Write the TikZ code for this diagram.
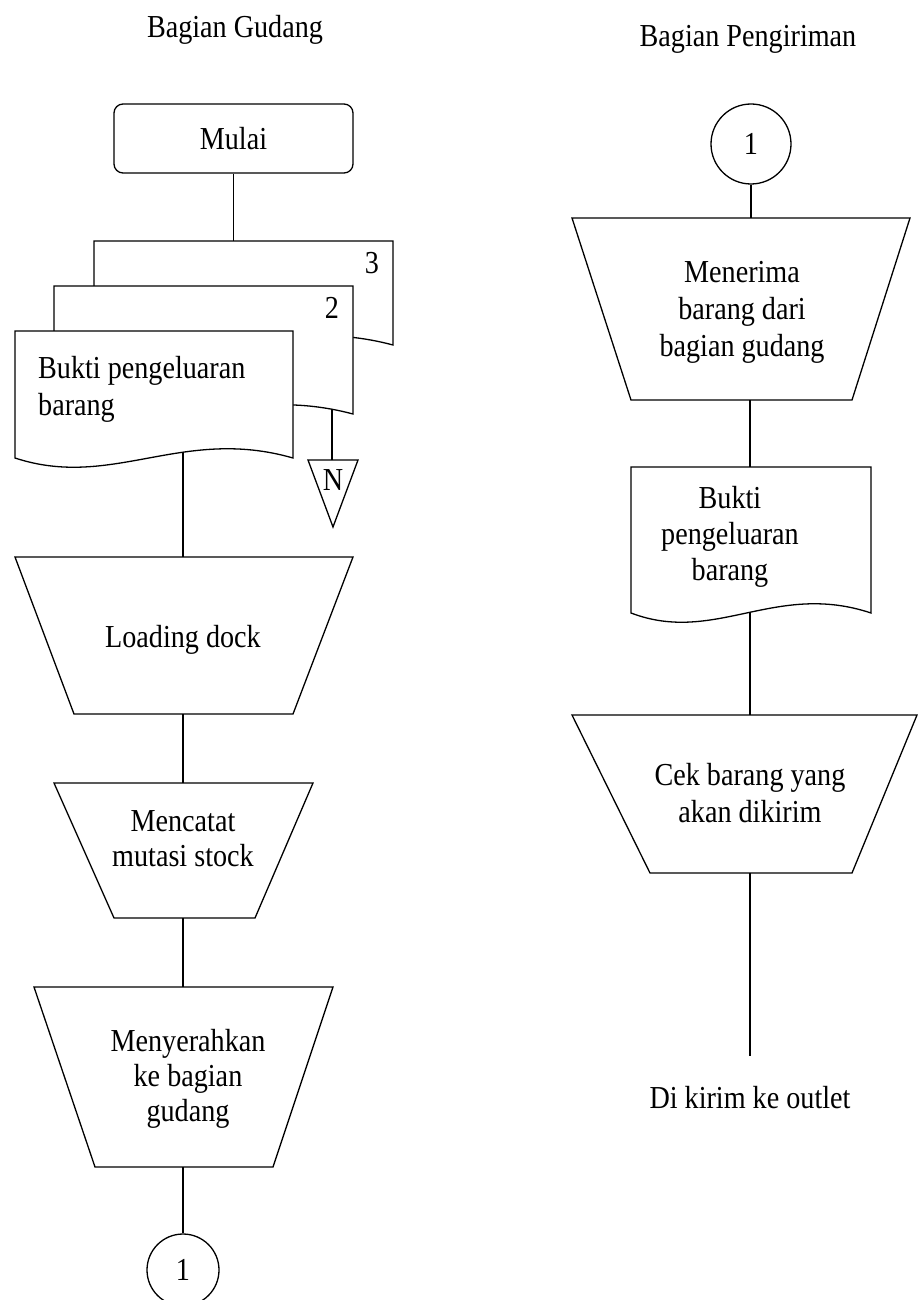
\documentclass[tikz,border=0pt]{standalone}
\usepackage{fontspec}
\setmainfont{Liberation Serif}[FakeStretch=0.88]
\newcommand\fsA{\fontsize{32}{35}\selectfont}
\newcommand\fsB{\fontsize{32}{37}\selectfont}
\newcommand\fsC{\fontsize{32}{36}\selectfont}
\newcommand\mydocshape[4]{%
  \path[shp] (#1,#2) -- (#3,#2) -- (#3,#4)
    .. controls ({#1+0.6*(#3-#1)},{#4-32}) and ({#1+0.35*(#3-#1)},{#4+32}) .. (#1,#4) -- cycle;}
\begin{document}
\begin{tikzpicture}[x=1pt,y=-1pt,
  shp/.style={draw=black, fill=white, line width=1.3pt},
  conn/.style={draw=black, line width=1.3pt},
  txt/.style={font=\fsA, inner sep=0pt, align=center},
  txtB/.style={font=\fsB, inner sep=0pt, align=center},
  txtC/.style={font=\fsC, inner sep=0pt, align=center}]
\useasboundingbox (0,0) rectangle (919,1300);
\fill[white] (0,0) rectangle (919,1300);

% titles
\node[txt, anchor=base] (tg) at (235,38) {Bagian Gudang};
\node[txt, anchor=base] (tp) at (748,47) {Bagian Pengiriman};

% ---------------- left column ----------------
\node[draw=black, line width=1.3pt, rounded corners=9pt, minimum width=239pt,
      minimum height=69pt, font=\fsA, inner sep=0pt] (mulai) at (233.5,138.5) {Mulai};

% document stack
\mydocshape{94}{241}{393}{345}
\mydocshape{54}{286}{353}{414}
\mydocshape{15}{331}{293}{458}
\coordinate (d3top) at (233.5,241);
\coordinate (d1bot) at (183,452);
\coordinate (d2bot) at (332,409);
\node[txt, anchor=base] (n3) at (372,273) {3};
\node[txt, anchor=base] (n2) at (332,318) {2};
\node[txtB, anchor=north west, align=left] (d1t) at (38,356) {Bukti pengeluaran\\barang};

% N (archive) triangle
\path[shp] (308,460) -- (358,460) -- (333,527) -- cycle;
\coordinate (ntop) at (332,460);
\node[txt, anchor=base] (nn) at (333,490) {N};

% Loading dock
\path[shp] (15,557) -- (353,557) -- (293,714) -- (74,714) -- cycle;
\coordinate (ldt) at (183,557);
\coordinate (ldb) at (183,714);
\node[txt, anchor=base] (ld) at (183,647) {Loading dock};

% Mencatat mutasi stock
\path[shp] (54,783) -- (313,783) -- (255,918) -- (114,918) -- cycle;
\coordinate (mct) at (183,783);
\coordinate (mcb) at (183,918);
\node[txt, anchor=north] (mc) at (183,810) {Mencatat\\mutasi stock};

% Menyerahkan
\path[shp] (34,987) -- (333,987) -- (273,1167) -- (95,1167) -- cycle;
\coordinate (myt) at (183,987);
\coordinate (myb) at (183,1167);
\node[txt, anchor=north] (my) at (188,1029) {Menyerahkan\\ke bagian\\gudang};

% off-page connector
\node[draw=black, line width=1.3pt, circle, minimum size=72pt, font=\fsA, inner sep=0pt] (c1) at (183,1270) {1};

% ---------------- right column ----------------
\node[draw=black, line width=1.3pt, circle, minimum size=80pt, font=\fsA, inner sep=0pt] (c2) at (751,144) {1};

% Menerima
\path[shp] (572,218) -- (910,218) -- (852,400) -- (631,400) -- cycle;
\coordinate (mrt) at (751,218);
\coordinate (mrb) at (750,400);
\node[txtB, anchor=north] (mr) at (742,261) {Menerima\\barang dari\\bagian gudang};

% Bukti document
\mydocshape{631}{467}{871}{613}
\coordinate (bkt) at (750,467);
\coordinate (bkb) at (750,613);
\node[txtC, anchor=north] (bk) at (730,486) {Bukti\\pengeluaran\\barang};

% Cek barang
\path[shp] (572,715) -- (917,715) -- (852,873) -- (650,873) -- cycle;
\coordinate (ckt) at (750,715);
\coordinate (ckb) at (750,873);
\node[txtB, anchor=north] (ck) at (750,763) {Cek barang yang\\akan dikirim};

\coordinate (endline) at (750,1056);
\node[txt, anchor=base] (out) at (750,1108) {Di kirim ke outlet};

% ---------------- connectors ----------------
\draw[conn] (mulai.south) -- (d3top);
\draw[conn] (d1bot) -- (ldt);
\draw[conn] (d2bot) -- (ntop);
\draw[conn] (ldb) -- (mct);
\draw[conn] (mcb) -- (myt);
\draw[conn] (myb) -- (c1.north);
\draw[conn] (c2.south) -- (mrt);
\draw[conn] (mrb) -- (bkt);
\draw[conn] (bkb) -- (ckt);
\draw[conn] (ckb) -- (endline);
\end{tikzpicture}
\end{document}
